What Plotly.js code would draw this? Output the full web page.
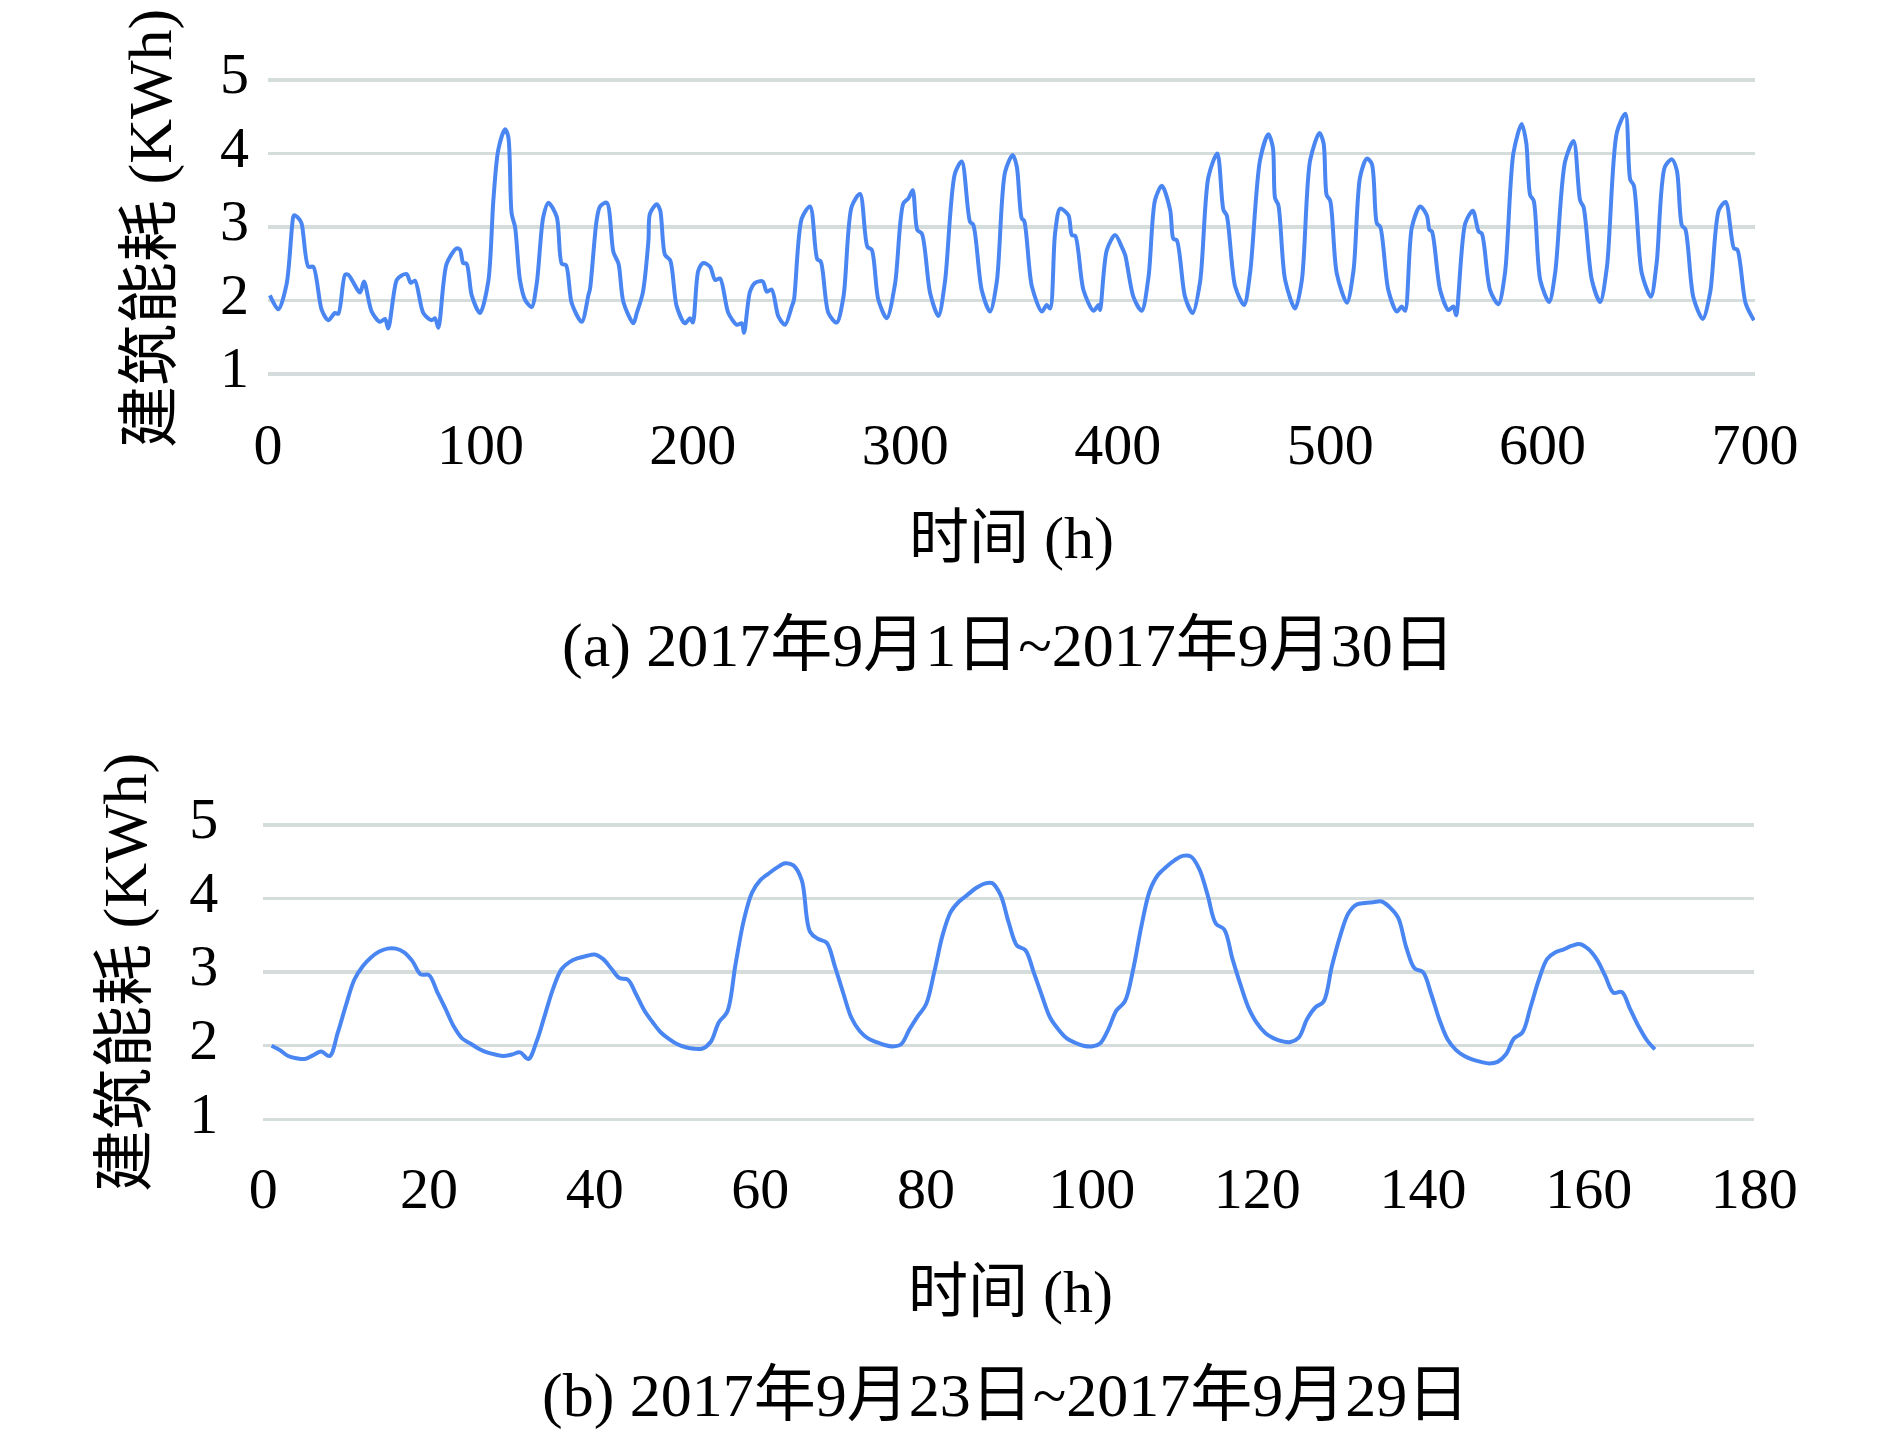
<!DOCTYPE html>
<html>
<head>
<meta charset="utf-8">
<script src="https://cdn.plot.ly/plotly-3.0.1.min.js"></script>
<style>
  html, body { margin: 0; padding: 0; background: #fff; }
  #chart { width: 1890px; height: 1437px; }
</style>
</head>
<body>
<div id="chart"></div>
<script>
/* ── building energy, two panels ── */

// (a) 2017-09-01 .. 2017-09-30 (hour, kWh)
const monthHours = [
  0.9, 4.9, 8.8, 11.9, 12.4, 14.3, 15.8, 19, 21.3, 25.3, 28.4, 31.5, 33.1, 36.3, 37.8,
  43.3, 45.2, 48.8, 52.7, 55.1, 56.6, 60.6, 62.9, 65.3, 67.2, 69.2, 73.1, 77, 78.6, 80.2,
  84.1, 88.8, 90.4, 91.9, 93.5, 95.9, 99.8, 103.7, 106.1, 108.4, 111.6, 113.1, 114.7, 116.3, 118.6,
  121, 124.1, 126.5, 129.6, 132, 135.9, 138.3, 140.3, 143, 147.7, 150.8, 151.6, 154.7, 156.3, 159.5,
  162.6, 165, 167.3, 172, 173.6, 176.4, 179.1, 179.8, 183, 184.6, 186.9, 189.3, 192.4, 196.3, 198.7,
  200, 202.6, 205, 208.1, 210.5, 212.8, 216.7, 220.7, 223, 224.1, 226.9, 229.3, 232.9, 234.8, 237.1,
  240.3, 243.4, 246.6, 247.6, 251.3, 255.2, 258.6, 260.2, 263.8, 267.7, 270.9, 274.8, 278.7, 282.2, 284.2,
  287.3, 291.3, 295.2, 299.1, 301.5, 303.5, 305.7, 307.8, 311.7, 315.6, 318.7, 323.4, 326.6, 330.5, 332,
  336, 339.9, 343.1, 347, 350.6, 352.5, 354.8, 356, 359.6, 364.3, 366.6, 368.2, 370.5, 372.9, 376.8,
  378.4, 380, 383.9, 388.6, 391, 391.7, 394.9, 398.8, 401.9, 403.5, 407.4, 411.3, 414.5, 417.6, 420.8,
  424.7, 426.2, 427.8, 431.7, 435.3, 438.8, 442.7, 446.9, 449.8, 451.3, 455.3, 459.5, 462.3, 467, 470.9,
  473, 474.1, 475.6, 478.8, 483.5, 486.7, 490.6, 495, 496.9, 498.4, 500, 503.1, 507.9, 511, 514.1,
  517.3, 519.6, 522, 523.6, 527.4, 531.4, 533.7, 535.3, 538.5, 542.4, 545.5, 546.8, 547.9, 551.8, 555.7,
  558, 559.3, 563.6, 567.2, 569.9, 571.4, 575.3, 579.2, 582.3, 586.3, 590.2, 592.3, 594.2, 595.8, 598.9,
  603.1, 605.9, 610.6, 614.6, 617.7, 619.3, 623.2, 627.1, 630.3, 635, 639, 641.3, 642.9, 646.7, 651,
  653.7, 657.6, 660.9, 663.2, 665.6, 667.2, 671, 675.4, 678.9, 683, 686.2, 690.1, 691.7, 695.6, 699.5
];
const monthEnergy = [
  2.07, 1.88, 2.23, 3.14, 3.16, 3.12, 3.05, 2.46, 2.46, 1.87, 1.73, 1.83, 1.82, 2.35, 2.35,
  2.11, 2.26, 1.85, 1.71, 1.75, 1.62, 2.28, 2.34, 2.36, 2.24, 2.27, 1.83, 1.73, 1.76, 1.63,
  2.50, 2.71, 2.69, 2.51, 2.50, 2.07, 1.83, 2.26, 3.37, 4.05, 4.33, 4.23, 3.18, 3.00, 2.28,
  2.01, 1.91, 2.23, 3.14, 3.33, 3.14, 2.50, 2.48, 1.96, 1.71, 2.07, 2.16, 3.09, 3.28, 3.33,
  2.66, 2.50, 1.98, 1.69, 1.83, 2.10, 2.82, 3.18, 3.31, 3.23, 2.62, 2.55, 1.92, 1.69, 1.76,
  1.70, 2.41, 2.51, 2.46, 2.28, 2.30, 1.83, 1.67, 1.69, 1.56, 2.12, 2.24, 2.26, 2.12, 2.15,
  1.78, 1.67, 1.92, 2.01, 3.12, 3.28, 2.56, 2.53, 1.83, 1.70, 2.05, 3.28, 3.45, 2.73, 2.69,
  2.01, 1.76, 2.23, 3.32, 3.39, 3.50, 2.96, 2.91, 2.10, 1.79, 2.26, 3.73, 3.89, 3.07, 3.03,
  2.14, 1.85, 2.26, 3.75, 3.98, 3.82, 3.12, 3.08, 2.19, 1.85, 1.94, 1.89, 2.91, 3.25, 3.16,
  2.89, 2.88, 2.14, 1.86, 1.94, 1.87, 2.69, 2.89, 2.73, 2.62, 2.05, 1.86, 2.32, 3.37, 3.56,
  3.23, 2.84, 2.82, 2.05, 1.83, 2.26, 3.68, 4.00, 3.23, 3.16, 2.19, 1.94, 2.37, 3.91, 4.26,
  4.09, 3.39, 3.30, 2.28, 1.89, 2.28, 3.91, 4.28, 4.14, 3.43, 3.36, 2.37, 1.97, 2.41, 3.68,
  3.93, 3.86, 3.05, 3.00, 2.14, 1.85, 1.92, 1.86, 3.00, 3.28, 3.16, 2.96, 2.94, 2.14, 1.87,
  1.92, 1.80, 3.05, 3.22, 2.94, 2.91, 2.14, 1.95, 2.37, 4.01, 4.40, 4.15, 3.43, 3.36, 2.28,
  1.98, 2.37, 3.89, 4.17, 3.36, 3.27, 2.28, 1.98, 2.46, 4.29, 4.54, 3.64, 3.57, 2.37, 2.05,
  2.51, 3.82, 3.92, 3.77, 3.02, 2.97, 2.04, 1.75, 2.11, 3.23, 3.34, 2.71, 2.69, 1.96, 1.73
];

// (b) 2017-09-23 .. 2017-09-29, hourly 1..168
const weekEnergy = [
  2.00, 1.94, 1.86, 1.83, 1.82, 1.87, 1.92, 1.86, 2.18, 2.56, 2.90, 3.08, 3.20, 3.28, 3.32, 3.32,
  3.27, 3.15, 2.97, 2.96, 2.73, 2.50, 2.26, 2.10, 2.03, 1.96, 1.91, 1.88, 1.86, 1.88, 1.91, 1.82,
  2.06, 2.42, 2.78, 3.04, 3.14, 3.19, 3.22, 3.24, 3.18, 3.05, 2.92, 2.90, 2.70, 2.48, 2.32, 2.18,
  2.09, 2.02, 1.98, 1.96, 1.96, 2.05, 2.32, 2.46, 3.10, 3.70, 4.08, 4.25, 4.34, 4.42, 4.48, 4.45,
  4.25, 3.55, 3.45, 3.40, 3.08, 2.72, 2.38, 2.20, 2.10, 2.05, 2.01, 1.99, 2.02, 2.22, 2.40, 2.56,
  3.00, 3.50, 3.82, 3.96, 4.05, 4.14, 4.20, 4.21, 4.05, 3.67, 3.36, 3.30, 3.00, 2.68, 2.38, 2.22,
  2.10, 2.04, 2.00, 1.99, 2.03, 2.22, 2.48, 2.60, 3.03, 3.62, 4.10, 4.32, 4.43, 4.52, 4.58, 4.57,
  4.40, 4.05, 3.66, 3.58, 3.18, 2.82, 2.50, 2.30, 2.17, 2.10, 2.06, 2.05, 2.11, 2.36, 2.52, 2.60,
  3.08, 3.49, 3.80, 3.92, 3.94, 3.95, 3.96, 3.88, 3.74, 3.33, 3.05, 3.00, 2.70, 2.35, 2.08, 1.94,
  1.86, 1.81, 1.78, 1.76, 1.78, 1.88, 2.10, 2.18, 2.53, 2.90, 3.18, 3.27, 3.31, 3.36, 3.38, 3.31,
  3.17, 2.95, 2.72, 2.73, 2.50, 2.27, 2.08, 1.95
];
const weekHours = weekEnergy.map((_, i) => i + 1);

const yTicks   = [1, 2, 3, 4, 5];
const monthXTicks = [0, 100, 200, 300, 400, 500, 600, 700];
const weekXTicks  = [0, 20, 40, 60, 80, 100, 120, 140, 160, 180];

const yTitle    = '建筑能耗 (KWh)';
const xTitle    = '时间 (h)';
const captionA  = '(a) 2017年9月1日~2017年9月30日';
const captionB  = '(b) 2017年9月23日~2017年9月29日';

const W = 1890, H = 1437;
const FONT = "'Liberation Serif', 'Noto Sans CJK SC', serif";
const LINE = '#4a86f2';
const GRID = '#d5dcdc';

const px = v => v / W;
const py = v => 1 - v / H;

function yAxis(domain, standoff) {
  return {
    domain: domain,
    range: [0.95, 5.05],
    tickvals: yTicks,
    showgrid: true,
    gridcolor: GRID,
    gridwidth: 3.5,
    zeroline: false,
    showline: false,
    ticks: '',
    ticklabelstandoff: standoff,
    ticklabelshift: -7,
    tickfont: { family: FONT, size: 58, color: '#000' },
    fixedrange: true,
  };
}

function xAxis(domain, range, vals, anchor, standoff) {
  return {
    domain: domain,
    range: range,
    anchor: anchor,
    tickvals: vals,
    showgrid: false,
    zeroline: false,
    showline: false,
    ticks: '',
    ticklabelstandoff: standoff,
    tickfont: { family: FONT, size: 58, color: '#000' },
    fixedrange: true,
  };
}

function label(text, x, y, size, angle) {
  return {
    text: text, xref: 'paper', yref: 'paper',
    x: px(x), y: py(y), xanchor: 'center', yanchor: 'middle',
    showarrow: false, textangle: angle || 0,
    font: { family: FONT, size: size, color: '#000' },
  };
}

const traces = [
  {
    x: monthHours, y: monthEnergy, xaxis: 'x', yaxis: 'y',
    mode: 'lines', line: { color: LINE, width: 4, shape: 'spline', smoothing: 0.8 },
    hoverinfo: 'skip',
  },
  {
    x: weekHours, y: weekEnergy, xaxis: 'x2', yaxis: 'y2',
    mode: 'lines', line: { color: LINE, width: 4, shape: 'spline', smoothing: 1 },
    hoverinfo: 'skip',
  },
];

const layout = {
  width: W, height: H,
  margin: { t: 0, b: 0, l: 0, r: 0 },
  paper_bgcolor: '#fff',
  plot_bgcolor: '#fff',
  showlegend: false,
  xaxis:  xAxis([px(268), px(1755)], [0, 700], monthXTicks, 'y', 27),
  yaxis:  yAxis([py(377.7), py(76.3)], 18),
  xaxis2: xAxis([px(263.3), px(1754.3)], [0, 180], weekXTicks, 'y2', 26),
  yaxis2: Object.assign(yAxis([py(1123), py(821.3)], 44), { anchor: 'x2' }),
  annotations: [
    label(yTitle, 150, 229, 62, -90),
    label(xTitle, 1011, 538, 60),
    label(captionA, 1008, 645, 62),
    label(yTitle, 125, 973, 62, -90),
    label(xTitle, 1010, 1292, 60),
    label(captionB, 1006, 1395, 62),
  ],
};

Plotly.newPlot('chart', traces, layout, { staticPlot: true, displayModeBar: false });
</script>
</body>
</html>
